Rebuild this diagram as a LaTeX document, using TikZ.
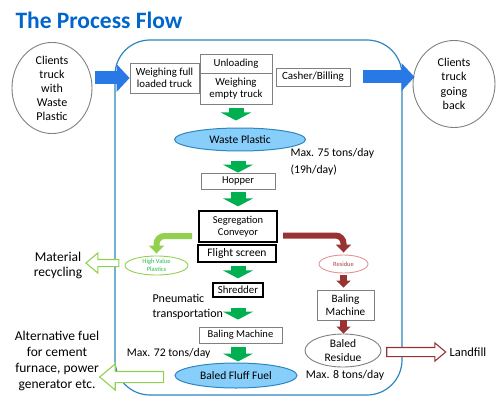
\documentclass[tikz,border=0pt]{standalone}
\usepackage{fontspec}
\setmainfont{Carlito}
\usetikzlibrary{arrows.meta,calc,positioning,shapes.geometric,shapes.arrows}
\definecolor{pftitle}{RGB}{0,102,204}
\definecolor{pfframe}{RGB}{46,134,193}
\definecolor{pfblue}{RGB}{40,120,230}
\definecolor{pfgreen}{RGB}{0,176,80}
\definecolor{pflime}{RGB}{146,208,80}
\definecolor{pfred}{RGB}{153,51,51}
\definecolor{pfpink}{RGB}{226,150,150}
\definecolor{pfsky}{RGB}{135,206,250}
\definecolor{pfgray}{RGB}{128,128,128}

\begin{document}
\begin{tikzpicture}[x=1pt,y=-1pt,font=\fontsize{10.8}{12.5}\selectfont,
    box/.style={draw=pfgray,line width=0.8pt,align=center,inner sep=0pt},
    hbox/.style={draw=black,line width=1.3pt,align=center,inner sep=0pt},
    oval/.style={ellipse,draw=pfgray,line width=0.9pt,align=center,inner sep=0pt},
    blueoval/.style={ellipse,draw=pfframe,fill=pfsky,line width=1pt,inner sep=0pt},
    txt/.style={align=center,font=\fontsize{13.5}{15}\selectfont},
    gdown/.style={pfgreen,line width=15pt,-{Triangle[width=30pt,length=8pt]}},
    rdown/.style={pfred,line width=7pt,-{Triangle[width=14pt,length=7pt]}},
    gbranch/.style={pflime,line width=6pt,rounded corners=8pt,-{Triangle[width=15pt,length=8pt]}},
    rbranch/.style={pfred,line width=6pt,rounded corners=8pt,-{Triangle[width=15pt,length=8pt]}},
    bfat/.style={pfblue,line width=13pt,-{Triangle[width=27pt,length=13pt]}},
    hollow/.style={single arrow,shape border rotate=#1,fill=white,line width=1.1pt,
      inner xsep=0pt,single arrow tip angle=80}]
  \useasboundingbox (0,0) rectangle (500,401);

  \node[anchor=west,text=pftitle,font=\fontsize{23.5}{26}\selectfont\bfseries] (title) at (12,20) {The Process Flow};

  % plant boundary
  \draw[pfframe,line width=1.2pt,rounded corners=35pt] (115,40) rectangle (402,395);

  % trucks in and out
  \node[oval,minimum width=80pt,minimum height=90pt,font=\fontsize{12}{14}\selectfont] (cl) at (52,88) {Clients\\truck\\with\\Waste\\Plastic};
  \node[oval,minimum width=82pt,minimum height=87pt,font=\fontsize{12}{14.3}\selectfont] (cg) at (454,84) {Clients\\truck\\going\\back};

  \node[box,minimum width=69pt,minimum height=30pt] (wf) at (164.5,78) {Weighing full\\loaded truck};
  \node[box,minimum width=72pt,minimum height=19pt] (ul) at (236,63.5) {Unloading};
  \node[box,minimum width=72pt,minimum height=31pt] (we) at (236,88.5) {Weighing\\empty truck};
  \node[box,minimum width=74pt,minimum height=18pt,font=\fontsize{11}{12}\selectfont] (cb) at (313,77) {Casher/Billing};

  \draw[bfat,shorten <=3pt] (cl.east |- wf.west) -- (wf.west);
  \draw[bfat,shorten <=13pt,shorten >=-2pt] (cb.east) -- (cg.west |- cb.east);

  % main line
  \node[blueoval,minimum width=131pt,minimum height=23pt,font=\fontsize{11.5}{13}\selectfont] (wp) at (240,139.5) {Waste Plastic};
  \node[anchor=west,align=left,font=\fontsize{11.7}{17}\selectfont] (m75) at (287,162) {Max. 75 tons/day\\(19h/day)};
  \node[box,minimum width=74pt,minimum height=16pt,font=\fontsize{10.5}{11}\selectfont] (hp) at (238,181) {Hopper};
  \node[hbox,minimum width=78pt,minimum height=31pt,font=\fontsize{10.5}{12.5}\selectfont] (sc) at (238,226.5) {Segregation\\Conveyor};
  \node[hbox,minimum width=78pt,minimum height=17pt,font=\fontsize{11.5}{12}\selectfont] (fs) at (237,253.5) {Flight screen};
  \node[hbox,minimum width=50pt,minimum height=14pt] (sh) at (238,290) {Shredder};
  \node[anchor=west,align=left,font=\fontsize{12}{15}\selectfont] (pn) at (149,306.5) {Pneumatic\\transportation};
  \node[box,minimum width=83pt,minimum height=16pt,font=\fontsize{10.5}{12}\selectfont] (bm) at (240.5,335) {Baling Machine};
  \node[anchor=east,font=\fontsize{11.7}{13}\selectfont] (m72) at (214,353) {Max. 72 tons/day};
  \node[blueoval,minimum width=122pt,minimum height=25pt,font=\fontsize{11.5}{12}\selectfont] (bff) at (236,375.5) {Baled Fluff Fuel};

  \draw[gdown,shorten <=4pt,shorten >=7pt] (we.south |- we.south) -- (we.south |- wp.north);
  \draw[gdown,shorten <=9pt] (wp.south -| hp.north) -- (hp.north);
  \draw[gdown,shorten <=3pt,shorten >=4pt] (hp.south) -- (hp.south |- sc.north);
  \draw[gdown,shorten <=3pt,shorten >=4pt] (fs.south -| sh.north) -- (sh.north);
  \draw[gdown,shorten <=10pt,shorten >=7pt] (sh.south) -- (sh.south |- bm.north);
  \draw[gdown,shorten <=4pt,shorten >=1pt] (bm.south -| sh.south) -- (bff.north -| sh.south);

  % high value plastics
  \node[ellipse,draw=pflime,line width=0.9pt,inner sep=0pt,minimum width=63pt,minimum height=19pt,
    text=pfgreen!70!pflime,align=center,font=\fontsize{6.5}{7.5}\selectfont] (hv) at (156.5,265.5) {High Value\\Plastics};
  \coordinate (gs) at (192,236);
  \draw[gbranch,shorten >=2pt] (gs) -| (hv.north);
  \node[txt] (mr) at (58,265) {Material\\recycling};
  \node[hollow=180,draw=pflime,inner ysep=3pt,single arrow head extend=6.5pt,minimum height=33pt] (mra) at (104.5,263) {};

  % residue
  \node[ellipse,draw=pfpink,line width=0.9pt,inner sep=0pt,minimum width=49pt,minimum height=18pt,
    text=pfred!80!pfpink,font=\fontsize{6.5}{7}\selectfont] (res) at (343.5,264) {Residue};
  \coordinate (rs) at (283,235.5);
  \draw[rbranch,shorten >=2pt] (rs) -| (res.north);
  \node[box,minimum width=57pt,minimum height=30pt,font=\fontsize{11.2}{13}\selectfont] (bmr) at (345.5,305) {Baling\\Machine};
  \node[oval,minimum width=76pt,minimum height=33pt,font=\fontsize{11.5}{14}\selectfont] (br) at (343,350.5) {Baled\\Residue};
  \node[font=\fontsize{11.8}{13}\selectfont] (m8) at (345,375) {Max. 8 tons/day};
  \draw[rdown,shorten <=2pt,shorten >=2pt] (res.south) -- (res.south |- bmr.north);
  \draw[rdown] (bmr.south -| res.south) -- (br.north -| res.south);

  \node[hollow=0,draw=pfred,inner ysep=4pt,single arrow head extend=4.5pt,minimum height=59pt] (lfa) at (413.5,352) {};
  \node[anchor=west,font=\fontsize{12.5}{14}\selectfont] (lf) at (446,352) {Landfill};

  % fuel output
  \node[hollow=180,draw=pflime,inner ysep=5pt,single arrow head extend=7.5pt,minimum height=64pt] (afa) at (135,377) {};
  \node[txt,font=\fontsize{13.5}{16}\selectfont] (af) at (57,361) {Alternative fuel\\for cement\\furnace, power\\generator etc.};
\end{tikzpicture}
\end{document}
